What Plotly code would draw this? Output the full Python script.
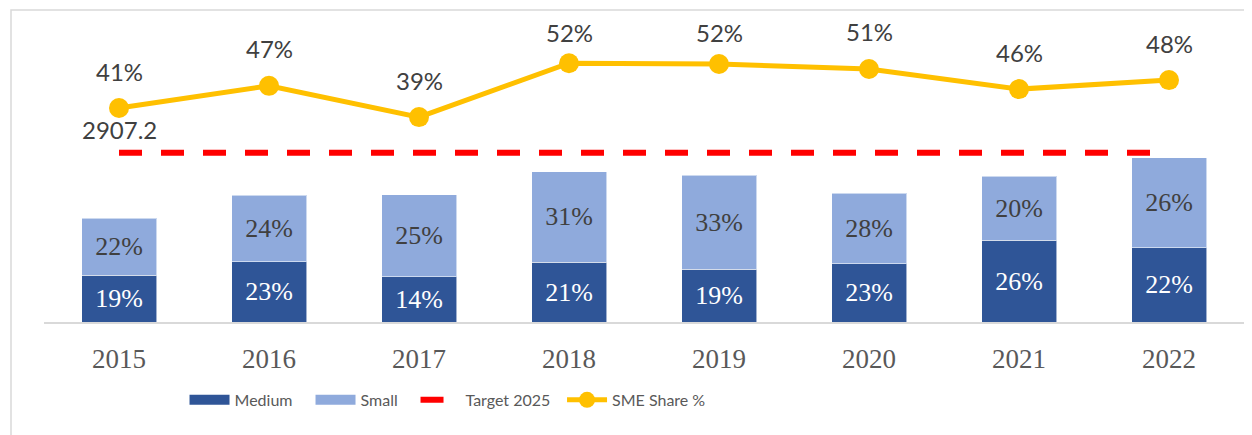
import plotly.graph_objects as go

# ---- data ----
years = ["2015", "2016", "2017", "2018", "2019", "2020", "2021", "2022"]
medium_values = [807, 1035, 778, 1030, 905, 1001, 1403, 1276]
small_values = [974, 1140, 1403, 1546, 1614, 1209, 1099, 1540]
medium_labels = ["19%", "23%", "14%", "21%", "19%", "23%", "26%", "22%"]
small_labels = ["22%", "24%", "25%", "31%", "33%", "28%", "20%", "26%"]
target_2025 = 2907.2
sme_share = [41.2, 46.6, 39.0, 52.1, 51.9, 50.7, 45.8, 48.0]
sme_share_labels = ["41%", "47%", "39%", "52%", "52%", "51%", "46%", "48%"]

# ---- styles ----
C_MED = "#2F5597"
C_SMALL = "#8FAADC"
C_LINE = "#FFC000"
C_TARGET = "#FF0000"
SANS = "Lato, 'Open Sans', sans-serif"
SERIF = "'Liberation Serif', 'Times New Roman', serif"
label_shift = [37, 37, 37, 31, 32, 37, 37, 37]
legend_x = [0.1171, 0.2221, 0.3096, 0.4317]
LEGEND_FONT = dict(family=SANS, size=16, color="#595959")

pos = list(range(len(years)))  # category slots

fig = go.Figure()

fig.add_trace(go.Bar(
    x=pos, y=medium_values, name="Medium", legendgroup="med", showlegend=False,
    marker=dict(color=C_MED, line=dict(color="rgba(255,255,255,0.55)", width=1)),
    text=medium_labels, textposition="inside", insidetextanchor="middle",
    textfont=dict(family=SERIF, size=26, color="white"),
    constraintext="none", hoverinfo="skip",
))
fig.add_trace(go.Bar(
    x=pos, y=small_values, name="Small", legendgroup="small", showlegend=False,
    marker=dict(color=C_SMALL, line=dict(color="rgba(255,255,255,0.55)", width=1)),
    text=small_labels, textposition="inside", insidetextanchor="middle",
    textfont=dict(family=SERIF, size=26, color="#404040"),
    constraintext="none", hoverinfo="skip",
))
fig.add_trace(go.Scatter(
    x=pos, y=[target_2025] * len(years), name="Target 2025", mode="lines",
    line=dict(color=C_TARGET, width=6, dash="23px,19px"), hoverinfo="skip",
    legend="legend3",
))
fig.add_trace(go.Scatter(
    x=pos, y=sme_share, name="SME Share %", mode="lines+markers", yaxis="y2",
    line=dict(color=C_LINE, width=5), marker=dict(color=C_LINE, size=20),
    hoverinfo="skip", legend="legend4",
))
# legend keys for the bar series (wide colour blocks, as in the reference)
fig.add_trace(go.Scatter(x=[None], y=[None], name="Medium", legendgroup="med",
                         mode="lines", line=dict(color=C_MED, width=10),
                         hoverinfo="skip", legend="legend"))
fig.add_trace(go.Scatter(x=[None], y=[None], name="Small", legendgroup="small",
                         mode="lines", line=dict(color=C_SMALL, width=10),
                         hoverinfo="skip", legend="legend2"))

# data labels of the line
for p, v, lab, sh in zip(pos, sme_share, sme_share_labels, label_shift):
    fig.add_annotation(x=p, y=v, xref="x", yref="y2", text=lab, showarrow=False,
                       yshift=sh, font=dict(family=SANS, size=24, color="#404040"))
# data label of the target line
fig.add_annotation(x=pos[0], y=target_2025, xref="x", yref="y", text=f"{target_2025:.1f}",
                   showarrow=False, yshift=23,
                   font=dict(family=SANS, size=24, color="#404040"))

# chart border
fig.add_shape(type="rect", xref="paper", yref="paper",
              x0=-0.0275, x1=1.03, y0=-0.5, y1=1.033,
              line=dict(color="#D9D9D9", width=1.5), fillcolor="rgba(0,0,0,0)")

def leg(x):
    return dict(orientation="h", x=x, xanchor="left", y=-0.258, yanchor="middle",
                font=LEGEND_FONT, itemwidth=40, bgcolor="rgba(0,0,0,0)")

fig.update_layout(
    width=1244, height=427,
    margin=dict(l=36, r=8, t=12, b=113),
    barmode="stack", bargap=0.5,
    plot_bgcolor="white", paper_bgcolor="white",
    showlegend=True,
    legend=leg(legend_x[0]), legend2=leg(legend_x[1]),
    legend3=leg(legend_x[2]), legend4=leg(legend_x[3]),
    xaxis=dict(range=[-0.5, len(years) - 0.5], tickvals=pos, ticktext=years,
               showline=True, linecolor="#D9D9D9", linewidth=1.5,
               showgrid=False, zeroline=False, ticks="", ticklabelstandoff=12,
               tickfont=dict(family=SERIF, size=27, color="#595959")),
    yaxis=dict(range=[0, 5185], visible=False, showgrid=False, zeroline=False),
    yaxis2=dict(range=[-10.8, 62.6], overlaying="y", side="right", visible=False,
                showgrid=False, zeroline=False),
)

fig.write_html("out.html")
